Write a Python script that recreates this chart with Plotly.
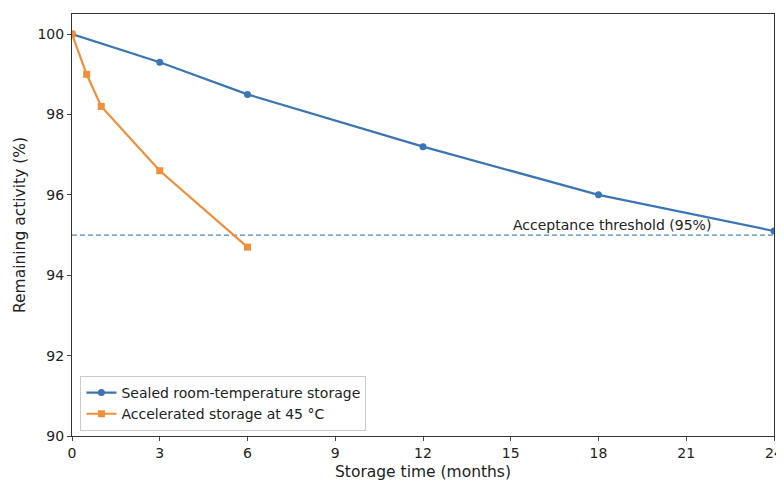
import plotly.graph_objects as go

months_room = [0, 3, 6, 12, 18, 24]
activity_room = [100.0, 99.3, 98.5, 97.2, 96.0, 95.1]
months_acc = [0, 0.5, 1, 3, 6]
activity_acc = [100.0, 99.0, 98.2, 96.6, 94.7]
threshold = 95
x_ticks = [0, 3, 6, 9, 12, 15, 18, 21, 24]
y_ticks = [90, 92, 94, 96, 98, 100]

blue = "#3b75b3"
orange = "#f08f3a"

fig = go.Figure()
fig.add_trace(go.Scatter(x=months_room, y=activity_room, mode="lines+markers",
                         name="Sealed room-temperature storage",
                         line=dict(color=blue, width=2.2),
                         marker=dict(symbol="circle", size=7, color=blue)))
fig.add_trace(go.Scatter(x=months_acc, y=activity_acc, mode="lines+markers",
                         name="Accelerated storage at 45 °C",
                         line=dict(color=orange, width=2.2),
                         marker=dict(symbol="square", size=7, color=orange)))
fig.add_shape(type="line", xref="paper", x0=0, x1=1, yref="y", y0=threshold, y1=threshold,
              line=dict(color="#4f86c0", width=1.3, dash="5px,3px"), layer="below")
fig.add_annotation(x=15, y=threshold, xref="x", yref="y", text="Acceptance threshold (95%)",
                   showarrow=False, xanchor="left", yanchor="bottom", yshift=0,
                   font=dict(size=14, color="#222222"))

fig.update_layout(
    width=776, height=475,
    margin=dict(l=64, r=10, t=6, b=47),
    paper_bgcolor="white", plot_bgcolor="white",
    font=dict(family="DejaVu Sans", size=14, color="#222222"),
    showlegend=True,
    legend=dict(x=0.012, y=0.012, xanchor="left", yanchor="bottom",
                bordercolor="#cccccc", borderwidth=1, bgcolor="rgba(255,255,255,0.8)",
                font=dict(size=14), tracegroupgap=0),
)
fig.update_xaxes(range=[0, 24], tickvals=x_ticks, ticks="outside", ticklen=4,
                 showline=True, linecolor="#333333", linewidth=1, mirror=True,
                 showgrid=False, zeroline=False, automargin=False,
                 title=dict(text="Storage time (months)", standoff=6, font=dict(size=15.5)))
fig.update_yaxes(range=[90, 100.5], tickvals=y_ticks, ticks="outside", ticklen=4,
                 showline=True, linecolor="#333333", linewidth=1, mirror=True,
                 showgrid=False, zeroline=False, automargin=False,
                 title=dict(text="Remaining activity (%)", standoff=8, font=dict(size=15.5)))

fig.write_html("out.html")
